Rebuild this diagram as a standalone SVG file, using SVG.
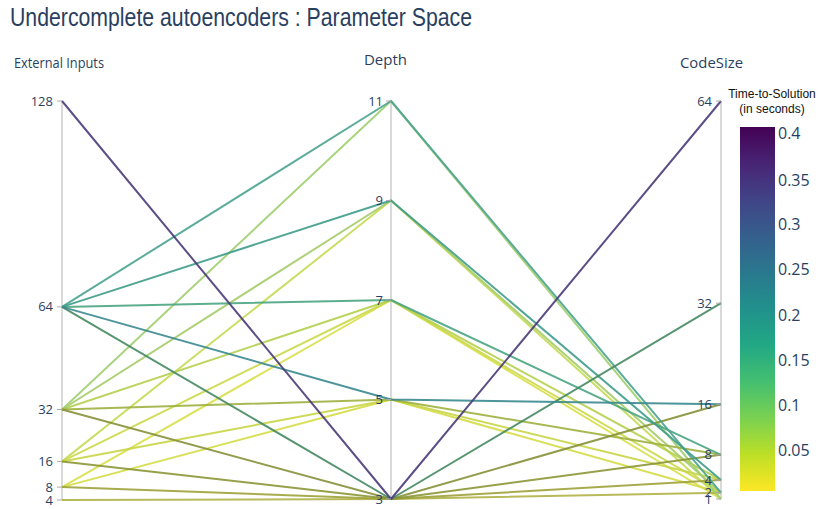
<svg xmlns="http://www.w3.org/2000/svg" width="819" height="509" viewBox="0 0 819 509">
  <defs>
    <!-- viridis, dark at the top (high values) to yellow at the bottom -->
    <linearGradient id="viridis" x1="0" y1="0" x2="0" y2="1">
      <stop offset="0" stop-color="#440154"/>
      <stop offset="0.1" stop-color="#482475"/>
      <stop offset="0.2" stop-color="#414487"/>
      <stop offset="0.3" stop-color="#355f8d"/>
      <stop offset="0.4" stop-color="#2a788e"/>
      <stop offset="0.5" stop-color="#21918c"/>
      <stop offset="0.6" stop-color="#22a884"/>
      <stop offset="0.7" stop-color="#44bf70"/>
      <stop offset="0.8" stop-color="#7ad151"/>
      <stop offset="0.9" stop-color="#bddf26"/>
      <stop offset="1" stop-color="#fde725"/>
    </linearGradient>
  </defs>
  <style>
    .spine { stroke: #cccccc; stroke-width: 1.5; }
    .tick { stroke: #aaaaaa; stroke-width: 1; }
    .tl { font-family: "Open Sans", "Liberation Sans", sans-serif; font-size: 13px; fill: #2a3f5f; text-anchor: end; }
    .axt { font-family: "Open Sans", "Liberation Sans", sans-serif; font-size: 15px; fill: #2a3f5f; }
    .title { font-family: "Liberation Sans", Arial, sans-serif; font-size: 25px; fill: #2a3f5f; }
    .cbt { font-family: "Liberation Sans", Arial, sans-serif; font-size: 12px; fill: #111111; text-anchor: middle; }
    .cbl { font-family: "Open Sans", "Liberation Sans", sans-serif; font-size: 16px; fill: #2a3f5f; }
    #connectors polyline { fill: none; stroke-width: 2; stroke-linejoin: round; stroke-opacity: 0.9; }
  </style>

  <rect width="819" height="509" fill="#ffffff"/>

  <g id="title">
    <text class="title" x="10" y="26" textLength="462" lengthAdjust="spacingAndGlyphs">Undercomplete autoencoders : Parameter Space</text>
  </g>

  <!-- axis spines -->
  <g id="spines">
    <line class="spine" x1="62" y1="101" x2="62" y2="500"/>
    <line class="spine" x1="391" y1="101" x2="391" y2="499"/>
    <line class="spine" x1="721" y1="101" x2="721" y2="499"/>
  </g>

  <!-- one polyline per run: External Inputs -> Depth -> CodeSize -->
  <g id="connectors">
    <polyline stroke="#d8df48" points="62,487.1 391,300 721,499"/>
    <polyline stroke="#d5dc45" points="62,487.1 391,399.5 721,492.7"/>
    <polyline stroke="#cbd94a" points="62,461.4 391,300 721,492.7"/>
    <polyline stroke="#c8d545" points="62,461.4 391,399.5 721,480"/>
    <polyline stroke="#c5da55" points="62,461.4 391,200.5 721,499"/>
    <polyline stroke="#b5d050" points="62,409.5 391,300 721,480"/>
    <polyline stroke="#b0b248" points="62,500 391,499 721,492.7"/>
    <polyline stroke="#a5cc68" points="62,409.5 391,200.5 721,492.7"/>
    <polyline stroke="#a0cf70" points="62,409.5 391,101 721,499"/>
    <polyline stroke="#9fb040" points="62,409.5 391,399.5 721,454.8"/>
    <polyline stroke="#9ea23a" points="62,487.1 391,499 721,480"/>
    <polyline stroke="#8c9636" points="62,461.4 391,499 721,454.8"/>
    <polyline stroke="#87913a" points="62,409.5 391,499 721,404.2"/>
    <polyline stroke="#4aa582" points="62,306.9 391,300 721,454.8"/>
    <polyline stroke="#4aa38e" points="62,306.9 391,101 721,492.7"/>
    <polyline stroke="#3f9c8a" points="62,306.9 391,200.5 721,480"/>
    <polyline stroke="#458a62" points="62,306.9 391,499 721,303.2"/>
    <polyline stroke="#3a8890" points="62,306.9 391,399.5 721,404.2"/>
    <polyline stroke="#4b3b78" points="62,101 391,499 721,101"/>
  </g>

  <g id="axis-external-inputs">
    <text class="axt" x="14" y="68" textLength="90" lengthAdjust="spacingAndGlyphs">External Inputs</text>
    <line class="tick" x1="57" y1="101" x2="62" y2="101"/>
    <line class="tick" x1="57" y1="306.9" x2="62" y2="306.9"/>
    <line class="tick" x1="57" y1="409.5" x2="62" y2="409.5"/>
    <line class="tick" x1="57" y1="461.4" x2="62" y2="461.4"/>
    <line class="tick" x1="57" y1="487.1" x2="62" y2="487.1"/>
    <line class="tick" x1="57" y1="500" x2="62" y2="500"/>
    <text class="tl" x="53" y="105.5">128</text>
    <text class="tl" x="53" y="311.4">64</text>
    <text class="tl" x="53" y="414">32</text>
    <text class="tl" x="53" y="465.9">16</text>
    <text class="tl" x="53" y="491.6">8</text>
    <text class="tl" x="53" y="504.5">4</text>
  </g>

  <g id="axis-depth">
    <text class="axt" x="385.5" y="65" text-anchor="middle" font-size="16">Depth</text>
    <line class="tick" x1="386" y1="101" x2="391" y2="101"/>
    <line class="tick" x1="386" y1="200.5" x2="391" y2="200.5"/>
    <line class="tick" x1="386" y1="300" x2="391" y2="300"/>
    <line class="tick" x1="386" y1="399.5" x2="391" y2="399.5"/>
    <line class="tick" x1="386" y1="499" x2="391" y2="499"/>
    <text class="tl" x="383" y="105.5">11</text>
    <text class="tl" x="383" y="205">9</text>
    <text class="tl" x="383" y="304.5">7</text>
    <text class="tl" x="383" y="404">5</text>
    <text class="tl" x="383" y="503.5">3</text>
  </g>

  <g id="axis-codesize">
    <text class="axt" x="680" y="68" textLength="63" lengthAdjust="spacingAndGlyphs">CodeSize</text>
    <line class="tick" x1="716" y1="101" x2="721" y2="101"/>
    <line class="tick" x1="716" y1="303.2" x2="721" y2="303.2"/>
    <line class="tick" x1="716" y1="404.2" x2="721" y2="404.2"/>
    <line class="tick" x1="716" y1="454.8" x2="721" y2="454.8"/>
    <line class="tick" x1="716" y1="480" x2="721" y2="480"/>
    <line class="tick" x1="716" y1="492.7" x2="721" y2="492.7"/>
    <line class="tick" x1="716" y1="499" x2="721" y2="499"/>
    <text class="tl" x="712" y="105.5">64</text>
    <text class="tl" x="712" y="307.7">32</text>
    <text class="tl" x="712" y="408.7">16</text>
    <text class="tl" x="712" y="459.3">8</text>
    <text class="tl" x="712" y="484.5">4</text>
    <text class="tl" x="712" y="497.2">2</text>
    <text class="tl" x="712" y="503.5">1</text>
  </g>

  <g id="colorbar">
    <text class="cbt" x="772" y="98">Time-to-Solution</text>
    <text class="cbt" x="772" y="113">(in seconds)</text>
    <rect x="740" y="127" width="35" height="364" fill="url(#viridis)"/>
    <text class="cbl" x="778" y="139">0.4</text>
    <text class="cbl" x="778" y="185.5">0.35</text>
    <text class="cbl" x="778" y="230">0.3</text>
    <text class="cbl" x="778" y="275">0.25</text>
    <text class="cbl" x="778" y="320.5">0.2</text>
    <text class="cbl" x="778" y="366">0.15</text>
    <text class="cbl" x="778" y="411">0.1</text>
    <text class="cbl" x="778" y="456">0.05</text>
  </g>
</svg>
